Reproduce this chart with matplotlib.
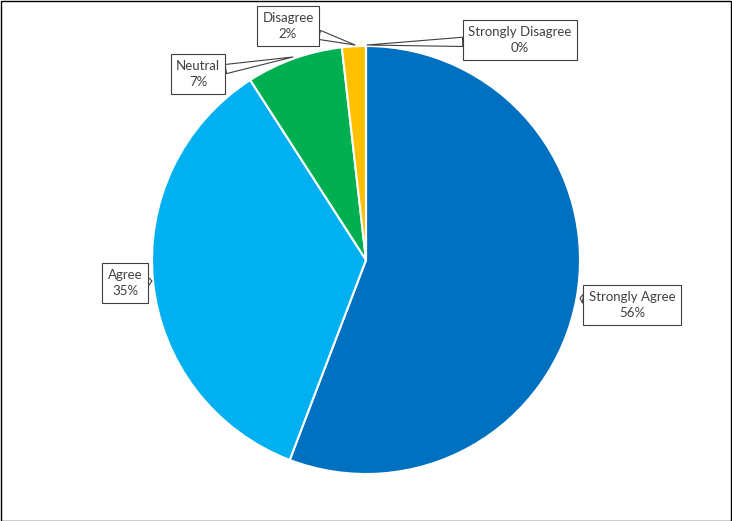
import matplotlib.pyplot as plt
from matplotlib.patches import Rectangle

categories = ["Strongly Agree", "Agree", "Neutral", "Disagree", "Strongly Disagree"]
values = [55.8, 35.1, 7.3, 1.8, 0.0]
colors = ["#0070C0", "#00B0F0", "#00B050", "#FFC000", "#A5A5A5"]

# label box centres and leader tips, in pixels from the top-left corner
label_pos = [(632, 305), (125, 283), (198, 74), (288, 26), (520, 40)]
tip_pos = [(580, 298), (152, 281), (293, 57), (355, 45), (367, 45)]

W, H = 732, 521
fig = plt.figure(figsize=(W / 100, H / 100), dpi=100)
ax = fig.add_axes([0, 0, 1, 1])

ax.pie(values, colors=colors, startangle=90, counterclock=False,
       center=(366, H - 260), radius=214,
       wedgeprops=dict(edgecolor="white", linewidth=1.5))
ax.set_xlim(0, W)
ax.set_ylim(0, H)
ax.set_aspect("equal")
ax.axis("off")

for name, v, (tx, ty), (px, py) in zip(categories, values, label_pos, tip_pos):
    ax.annotate(f"{name}\n{round(v)}%", xy=(px, H - py), xytext=(tx, H - ty),
                ha="center", va="center", fontsize=9.5, family="Lato",
                color="#404040", linespacing=1.45,
                bbox=dict(boxstyle="square,pad=0.4", fc="white", ec="#404040", lw=0.8),
                arrowprops=dict(arrowstyle="wedge,tail_width=0.7,shrink_factor=0.5",
                                fc="white", ec="#404040", lw=0.8,
                                shrinkA=0, shrinkB=0))

# outer chart border
fig.patches.append(Rectangle((0.5 / W, 0.5 / H), 1 - 1.5 / W, 1 - 1.5 / H,
                             transform=fig.transFigure, fill=False,
                             ec="black", lw=1))

fig.savefig("out.png", dpi=100)
